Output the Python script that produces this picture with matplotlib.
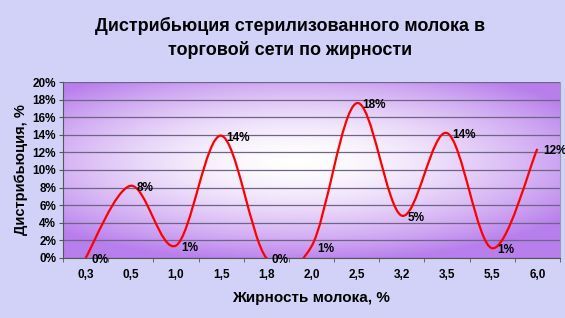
import numpy as np
import matplotlib
matplotlib.use("Agg")
import matplotlib.pyplot as plt
from matplotlib.path import Path
from matplotlib.patches import PathPatch
from matplotlib.ticker import MultipleLocator, FuncFormatter

# -------------------------------
# Data
# -------------------------------
fat_labels = ["0,3", "0,5", "1,0", "1,5", "1,8", "2,0", "2,5", "3,2", "3,5", "5,5", "6,0"]
share = [0.0, 8.2, 1.4, 13.9, 0.0, 1.3, 17.6, 4.8, 14.2, 1.1, 12.4]

title = "Дистрибьюция стерилизованного молока в\nторговой сети по жирности"
x_title = "Жирность молока, %"
y_title = "Дистрибьюция, %"

plt.rcParams["font.family"] = ["Liberation Sans", "DejaVu Sans"]

fig = plt.figure(figsize=(5.65, 3.18), dpi=100)
fig.patch.set_facecolor("#d2d2f8")
ax = fig.add_axes([0.1115, 0.189, 0.8795, 0.553])

# -------------------------------
# Plot area background: white glow on purple
# -------------------------------
gx, gy = np.meshgrid(np.linspace(0, 1, 300), np.linspace(0, 1, 200))
r = np.sqrt(((gx - 0.47) / 0.66) ** 2 + ((gy - 0.55) / 0.58) ** 2)
r = np.clip(r, 0, 1) ** 1.6
edge = np.array([184, 126, 236]) / 255.0
img = (1 - r)[..., None] * np.ones(3) + r[..., None] * edge
ax.imshow(img, extent=[0, 1, 0, 1], origin="lower", aspect="auto",
          transform=ax.transAxes, zorder=0)

# -------------------------------
# Smoothed line (bezier through the points, like Excel)
# -------------------------------
xs = np.arange(len(share))
ys = np.array(share)
pts = np.column_stack([xs, ys])
verts = [pts[0]]
codes = [Path.MOVETO]
n = len(pts)
for i in range(n - 1):
    p_prev = pts[max(i - 1, 0)]
    p_next2 = pts[min(i + 2, n - 1)]
    c1 = pts[i] + (pts[i + 1] - p_prev) / 6.0
    c2 = pts[i + 1] - (p_next2 - pts[i]) / 6.0
    verts += [c1, c2, pts[i + 1]]
    codes += [Path.CURVE4] * 3
ax.add_patch(PathPatch(Path(verts, codes), facecolor="none",
                       edgecolor="#ff0000", lw=1.6, zorder=3))

for x, y in zip(xs, ys):
    ax.annotate(f"{round(y):.0f}%", (x, y), xytext=(4, -1.5), textcoords="offset points",
                ha="left", va="center", fontsize=8.5, fontweight="bold",
                color="black", zorder=4, annotation_clip=False)

# -------------------------------
# Axes styling
# -------------------------------
ax.set_xlim(-0.5, len(share) - 0.5)
ax.set_ylim(0, 20)
ax.yaxis.set_major_locator(MultipleLocator(2))
ax.yaxis.set_major_formatter(FuncFormatter(lambda v, p: f"{v:.0f}%"))
ax.set_xticks(xs)
ax.set_xticklabels(fat_labels)
ax.set_xticks(np.arange(-0.5, len(share)), minor=True)
ax.tick_params(axis="x", which="major", length=0, pad=8)
ax.tick_params(axis="x", which="minor", length=3, color="#555555", direction="out")
ax.tick_params(axis="y", length=3, color="#555555", pad=2)
for lab in ax.get_xticklabels() + ax.get_yticklabels():
    lab.set_fontsize(8.5)
    lab.set_fontweight("bold")

ax.grid(axis="y", color="#6e6488", lw=0.9, zorder=1)
ax.set_axisbelow(True)
ax.spines["top"].set_visible(False)
ax.spines["left"].set_color("#555555")
ax.spines["bottom"].set_color("#555555")
ax.spines["right"].set_color("#9a9ab0")

ax.set_xlabel(x_title, fontsize=11, fontweight="bold", labelpad=7)
ax.set_ylabel(y_title, fontsize=10.5, fontweight="bold", labelpad=3)
fig.text(0.513, 0.88, title, ha="center", va="center", fontsize=13,
         fontweight="bold", linespacing=1.45)

plt.savefig("out.png", dpi=100, facecolor=fig.get_facecolor())
